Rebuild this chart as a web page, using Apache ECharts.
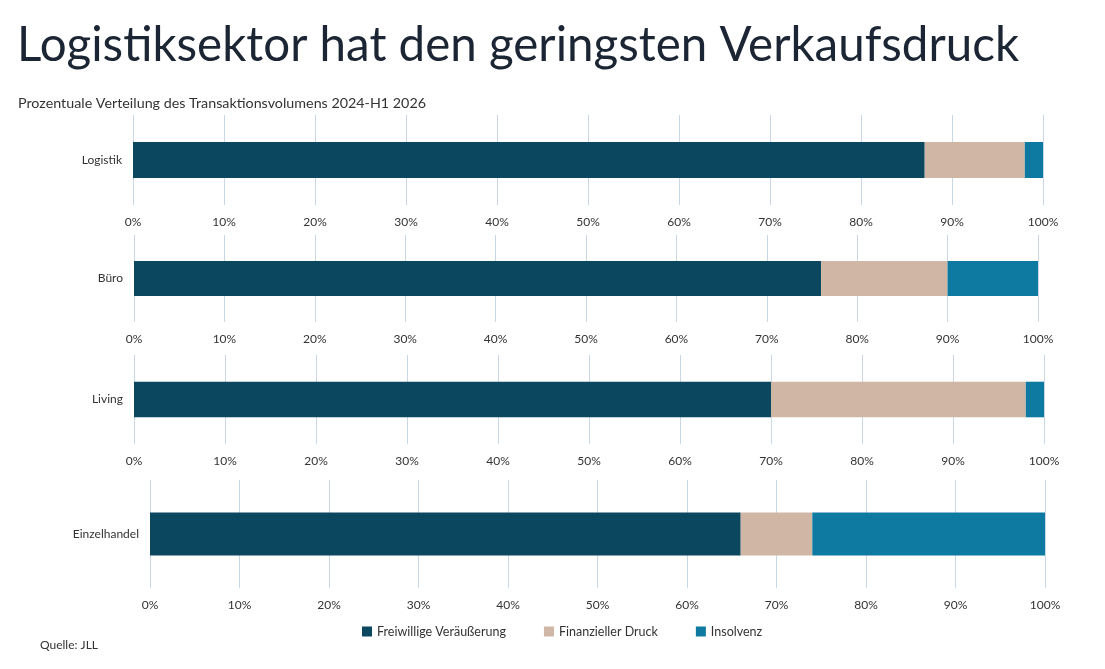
<!DOCTYPE html>
<html><head><meta charset="utf-8">
<script src="https://cdn.jsdelivr.net/npm/echarts@6/dist/echarts.min.js"></script>
<style>html,body{margin:0;padding:0;background:#fff}#c{width:1105px;height:669px}</style>
</head><body><div id="c"></div>
<script>
const categories = ['Logistik', 'Büro', 'Living', 'Einzelhandel'];
const seriesNames = ['Freiwillige Veräußerung', 'Finanzieller Druck', 'Insolvenz'];
const freiwillig = [87, 76, 70, 66];
const finanziell = [11, 14, 28, 8];
const insolvenz = [2, 10, 2, 26];
const tickValues = [0,10,20,30,40,50,60,70,80,90,100];

const colors = ['#0b4860', '#d0b7a5', '#0e7aa1'];
const values = [freiwillig, finanziell, insolvenz];
const FONT = 'Lato';
const grids = [
  {left:133, right:62, top:115, height:90},
  {left:134, right:67, top:235, height:87},
  {left:134, right:61, top:355, height:89},
  {left:150, right:60, top:480, height:108}
];
const xAxis = [], yAxis = [], series = [];
categories.forEach((cat, i) => {
  xAxis.push({
    gridIndex:i, type:'value', min:tickValues[0], max:tickValues[tickValues.length-1], interval:10,
    axisLine:{show:false}, axisTick:{show:false},
    axisLabel:{formatter:'{value}%', color:'#333', fontSize:12, fontFamily:FONT, margin:11},
    splitLine:{lineStyle:{color:'#c9d8e6', width:1}}
  });
  yAxis.push({
    gridIndex:i, type:'category', data:[cat],
    axisLine:{show:false}, axisTick:{show:false},
    axisLabel:{color:'#333', fontSize:12, fontFamily:FONT, margin:11},
    splitLine:{show:false}
  });
  seriesNames.forEach((n, k) => {
    series.push({
      name:n, type:'bar', stack:'s'+i, xAxisIndex:i, yAxisIndex:i,
      barWidth:'40%', data:[values[k][i]], itemStyle:{color:colors[k]},
      emphasis:{disabled:true}
    });
  });
});
const chart = echarts.init(document.getElementById('c'), null, {renderer:'canvas'});
chart.setOption({
  animation:false,
  color:colors,
  textStyle:{fontFamily:FONT},
  title:[
    {text:'Logistiksektor hat den geringsten Verkaufsdruck', left:12, top:17,
     textStyle:{fontSize:47.5, fontWeight:'normal', color:'#1b2533', fontFamily:FONT}},
    {text:'Prozentuale Verteilung des Transaktionsvolumens 2024-H1 2026', left:13, top:91,
     textStyle:{fontSize:14.3, fontWeight:'normal', color:'#333', fontFamily:FONT}},
    {text:'Quelle: JLL', left:35, top:634,
     textStyle:{fontSize:12, fontWeight:'normal', color:'#333', fontFamily:FONT}}
  ],
  legend:{data:seriesNames, bottom:26, left:357, itemWidth:10, itemHeight:10, itemGap:38,
    icon:'rect', textStyle:{fontSize:12.5, color:'#333', fontFamily:FONT}},
  grid:grids,
  xAxis:xAxis, yAxis:yAxis, series:series
});
</script></body></html>
